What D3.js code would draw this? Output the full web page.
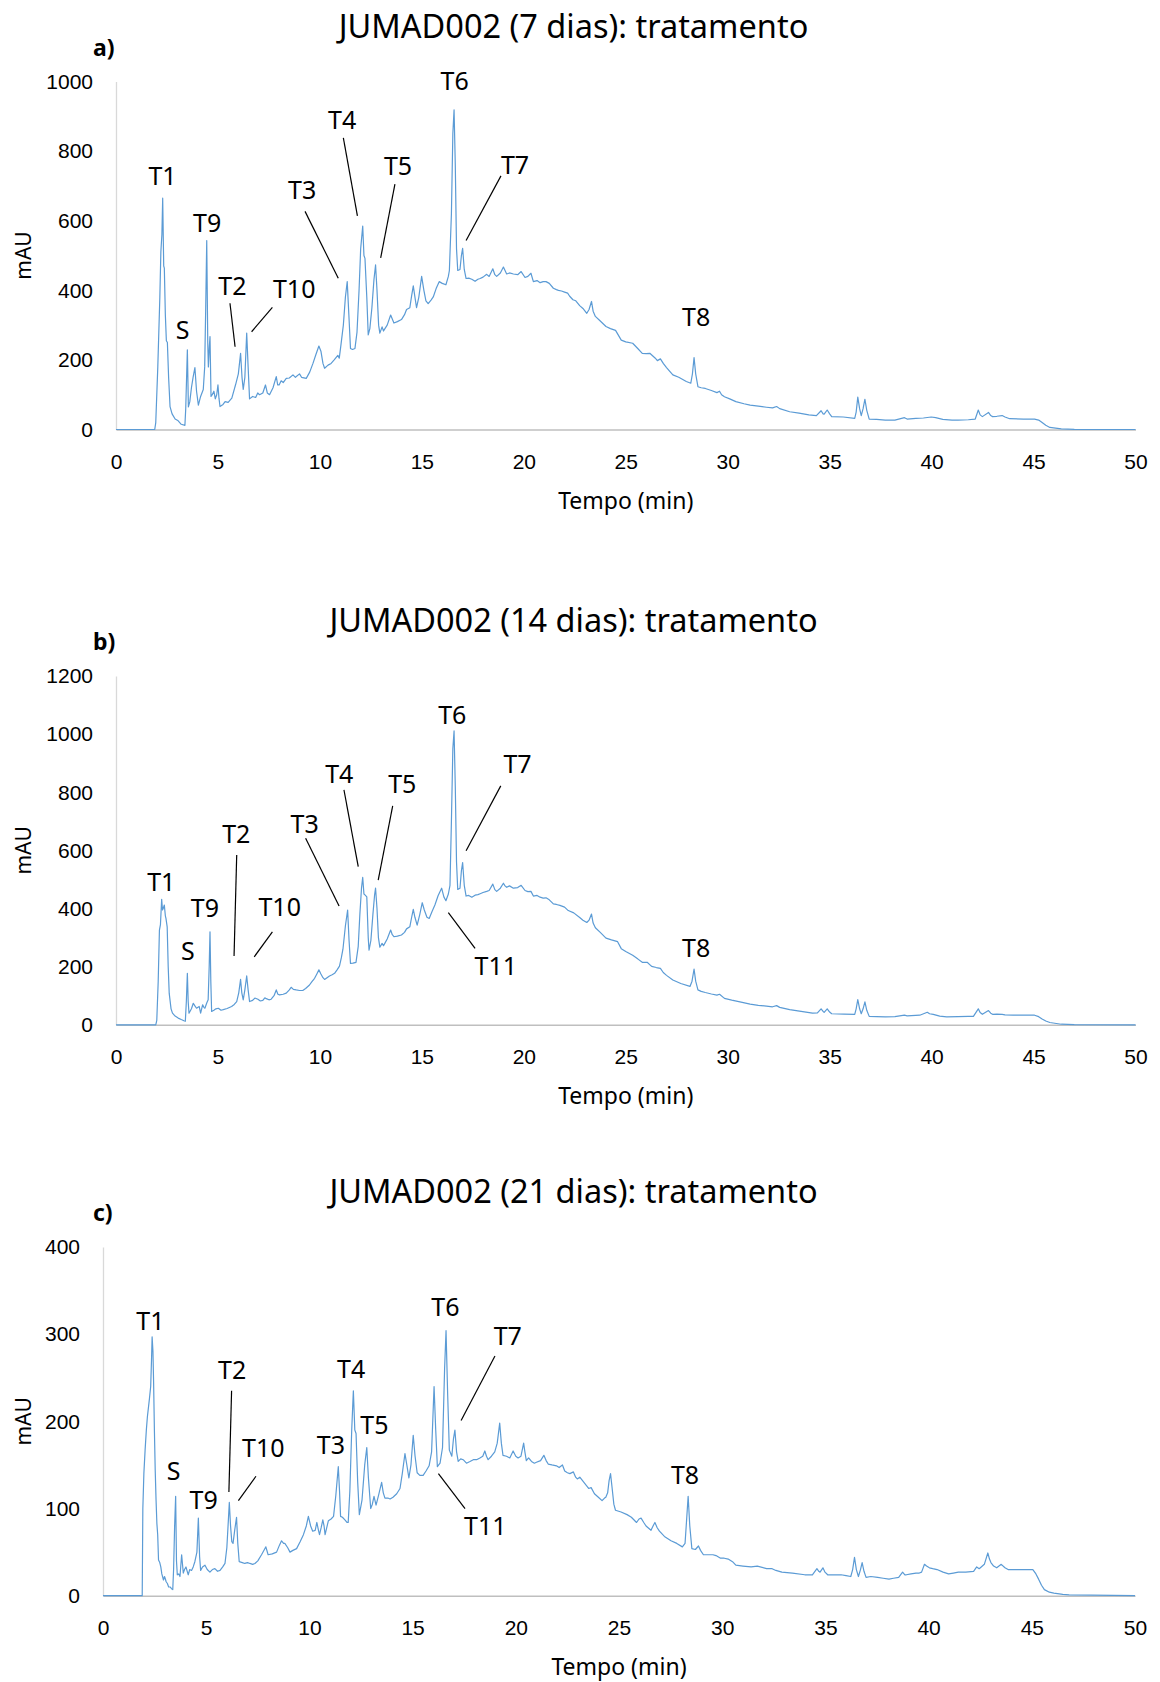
<!DOCTYPE html>
<html>
<head>
<meta charset="utf-8">
<script src="https://cdn.jsdelivr.net/npm/d3@7"></script>
<style>
  body { margin: 0; background: #fff; }
  svg { display: block; font-family: "Noto Sans", "Open Sans", sans-serif; }
</style>
</head>
<body>
<svg id="chart" width="1160" height="1682"></svg>
<script>
// chart text
const titles = ["JUMAD002 (7 dias): tratamento", "JUMAD002 (14 dias): tratamento", "JUMAD002 (21 dias): tratamento"];
const tags = ["a)", "b)", "c)"];
const xLabel = "Tempo (min)";
const yLabel = "mAU";

// tick values
const xTicks = [0, 5, 10, 15, 20, 25, 30, 35, 40, 45, 50];
const yTicksA = [0, 200, 400, 600, 800, 1000];
const yTicksB = [0, 200, 400, 600, 800, 1000, 1200];
const yTicksC = [0, 100, 200, 300, 400];

// chromatograms: [time (min), mAU]
const traceA = [[0,0],[1.9,0],[1.95,20],[2.05,180],[2.15,380],[2.2,510],[2.25,560],[2.29,665],[2.34,470],[2.37,464],[2.42,330],[2.47,255],[2.52,250],[2.58,150],[2.65,66],[2.75,45],[2.9,30],[3.05,25],[3.2,15],[3.38,12],[3.42,60],[3.5,229],[3.55,65],[3.62,80],[3.7,120],[3.78,150],[3.87,178],[3.95,110],[4.04,70],[4.15,95],[4.28,115],[4.35,180],[4.4,350],[4.45,543],[4.5,250],[4.53,180],[4.58,240],[4.61,267],[4.66,95],[4.72,100],[4.8,110],[4.87,88],[4.94,100],[5.0,128],[5.05,90],[5.1,66],[5.25,72],[5.35,80],[5.5,78],[5.68,90],[5.87,130],[6.0,160],[6.11,219],[6.18,150],[6.24,115],[6.32,150],[6.41,277],[6.48,180],[6.55,88],[6.7,95],[6.85,92],[6.95,105],[7.04,100],[7.2,105],[7.33,128],[7.42,105],[7.53,100],[7.7,120],[7.86,152],[7.93,128],[8.0,128],[8.1,140],[8.2,135],[8.35,147],[8.5,148],[8.68,157],[8.8,150],[9.0,160],[9.1,150],[9.33,147],[9.5,165],[9.66,190],[9.8,215],[9.95,240],[10.05,225],[10.15,190],[10.23,176],[10.4,185],[10.55,190],[10.7,200],[10.88,213],[10.95,205],[11.04,247],[11.15,300],[11.25,380],[11.34,425],[11.42,330],[11.5,233],[11.6,230],[11.72,233],[11.82,280],[11.92,400],[12.0,520],[12.1,585],[12.16,500],[12.21,492],[12.3,380],[12.37,272],[12.45,290],[12.55,350],[12.65,430],[12.73,473],[12.8,400],[12.88,300],[12.94,277],[13.05,295],[13.12,283],[13.19,290],[13.3,300],[13.47,329],[13.63,306],[13.8,310],[14.0,316],[14.15,330],[14.25,345],[14.41,350],[14.5,385],[14.58,413],[14.65,385],[14.74,350],[14.85,380],[14.99,440],[15.1,400],[15.2,370],[15.31,362],[15.45,372],[15.56,381],[15.7,405],[15.85,425],[16.0,420],[16.18,416],[16.3,440],[16.35,457],[16.45,620],[16.52,850],[16.58,919],[16.64,760],[16.7,520],[16.76,457],[16.87,460],[16.94,500],[17.0,521],[17.08,460],[17.17,434],[17.3,435],[17.45,432],[17.61,426],[17.75,432],[17.86,434],[18.0,438],[18.18,446],[18.3,440],[18.48,462],[18.58,445],[18.67,440],[18.85,450],[19.0,467],[19.16,447],[19.3,450],[19.49,447],[19.7,445],[19.87,454],[20.06,437],[20.2,440],[20.35,449],[20.47,425],[20.65,428],[20.8,422],[20.95,425],[21.09,425],[21.25,420],[21.45,406],[21.6,402],[21.7,400],[21.85,398],[22.0,395],[22.15,392],[22.25,383],[22.41,373],[22.55,370],[22.74,356],[22.9,348],[23.09,334],[23.2,345],[23.32,368],[23.4,340],[23.51,325],[23.75,312],[24.03,296],[24.25,290],[24.5,285],[24.78,257],[25.0,252],[25.34,248],[25.6,232],[25.81,219],[26.0,218],[26.18,219],[26.45,205],[26.55,198],[26.7,203],[26.84,190],[27.0,178],[27.31,157],[27.6,150],[27.97,138],[28.19,133],[28.27,160],[28.35,207],[28.43,160],[28.54,123],[28.7,120],[28.9,118],[29.2,112],[29.47,106],[29.6,110],[29.7,100],[29.84,94],[30.1,88],[30.4,80],[30.8,74],[31.1,70],[31.5,67],[31.9,64],[32.2,62],[32.4,66],[32.55,60],[33.04,51],[33.5,47],[33.98,42],[34.35,40],[34.58,54],[34.68,45],[34.73,44],[34.88,56],[35.0,45],[35.1,37],[35.67,36],[36.23,32],[36.3,50],[36.38,93],[36.47,60],[36.55,40],[36.64,60],[36.73,87],[36.82,55],[36.94,30],[37.3,29],[37.73,27],[38.2,27],[38.67,34],[38.8,30],[39.23,32],[39.6,33],[39.98,36],[40.2,34],[40.55,29],[41.0,27],[41.3,27],[41.8,28],[42.14,30],[42.29,56],[42.38,42],[42.49,37],[42.79,49],[42.9,40],[42.99,37],[43.2,38],[43.46,40],[43.6,36],[43.83,31],[44.5,30],[45.05,30],[45.25,27],[45.42,20],[45.6,12],[45.8,6],[46.36,2],[47,0.5],[50,0]];

const traceB = [[0,0],[1.95,0],[2.0,15],[2.07,150],[2.13,326],[2.18,345],[2.24,432],[2.28,395],[2.32,401],[2.37,412],[2.42,375],[2.45,366],[2.51,337],[2.56,200],[2.61,108],[2.7,55],[2.77,40],[2.9,30],[3.05,23],[3.2,18],[3.33,14],[3.4,12],[3.45,80],[3.5,177],[3.54,80],[3.58,40],[3.7,55],[3.79,74],[3.87,65],[3.95,57],[4.08,63],[4.15,40],[4.25,69],[4.31,60],[4.36,57],[4.45,75],[4.52,86],[4.57,200],[4.61,320],[4.65,150],[4.69,46],[4.8,50],[4.9,55],[5.02,57],[5.15,50],[5.26,52],[5.45,56],[5.67,63],[5.8,70],[5.92,80],[6.02,110],[6.11,156],[6.17,110],[6.24,86],[6.32,120],[6.41,168],[6.48,120],[6.55,80],[6.7,84],[6.81,92],[6.96,88],[7.08,82],[7.2,84],[7.3,93],[7.37,90],[7.5,86],[7.61,88],[7.75,100],[7.86,120],[7.94,105],[8.02,103],[8.2,105],[8.35,109],[8.5,120],[8.59,129],[8.7,122],[8.84,120],[9.0,118],[9.16,118],[9.3,125],[9.49,137],[9.6,148],[9.74,160],[9.85,175],[9.95,189],[10.05,175],[10.15,162],[10.23,156],[10.35,162],[10.47,168],[10.6,172],[10.72,177],[10.85,190],[10.96,202],[11.05,230],[11.13,260],[11.25,340],[11.36,395],[11.43,290],[11.5,211],[11.62,212],[11.77,215],[11.88,270],[11.96,380],[12.04,470],[12.1,507],[12.16,450],[12.21,447],[12.3,440],[12.37,300],[12.41,257],[12.5,290],[12.6,380],[12.68,445],[12.73,470],[12.8,400],[12.87,300],[12.94,267],[13.05,280],[13.12,272],[13.19,281],[13.3,295],[13.47,326],[13.55,310],[13.63,303],[13.8,305],[14.0,309],[14.15,318],[14.25,330],[14.41,337],[14.5,370],[14.58,397],[14.66,370],[14.77,343],[14.9,380],[15.02,420],[15.12,395],[15.25,370],[15.36,366],[15.5,390],[15.64,412],[15.8,445],[15.97,470],[16.08,440],[16.18,427],[16.3,450],[16.38,480],[16.45,700],[16.52,950],[16.58,1011],[16.64,820],[16.7,560],[16.76,466],[16.87,470],[16.94,530],[17.0,558],[17.08,480],[17.17,443],[17.3,445],[17.45,439],[17.61,446],[17.75,448],[17.86,451],[18.0,455],[18.18,459],[18.3,462],[18.48,484],[18.58,465],[18.67,459],[18.85,470],[19.0,487],[19.08,478],[19.16,473],[19.3,478],[19.49,470],[19.7,472],[19.87,480],[20.06,462],[20.2,458],[20.35,459],[20.47,443],[20.65,445],[20.8,439],[20.95,436],[21.09,437],[21.25,430],[21.45,416],[21.6,414],[21.77,411],[22.0,405],[22.18,393],[22.45,385],[22.74,369],[22.9,360],[23.09,352],[23.2,360],[23.32,381],[23.4,350],[23.51,334],[23.75,318],[24.03,298],[24.3,292],[24.6,286],[24.78,262],[25.0,252],[25.34,239],[25.6,226],[25.81,215],[26.05,215],[26.27,201],[26.5,197],[26.7,194],[26.84,180],[27.0,170],[27.31,154],[27.7,142],[28.15,132],[28.25,150],[28.35,192],[28.43,150],[28.54,120],[28.7,115],[28.9,111],[29.2,106],[29.47,102],[29.6,105],[29.84,91],[30.2,85],[30.6,79],[31.1,71],[31.5,67],[31.9,64],[32.2,62],[32.4,66],[32.55,60],[33.04,52],[33.6,46],[34.16,40],[34.4,41],[34.58,55],[34.68,46],[34.73,43],[34.88,55],[35.0,44],[35.1,38],[35.7,37],[36.23,36],[36.3,55],[36.38,87],[36.47,55],[36.55,38],[36.64,55],[36.73,79],[36.82,50],[36.94,29],[37.3,28],[37.73,27],[38.2,28],[38.67,33],[38.8,31],[39.42,33],[39.79,43],[39.9,38],[40.08,36],[40.4,30],[40.74,27],[41.3,28],[41.8,29],[42.05,29],[42.29,55],[42.38,42],[42.49,36],[42.79,49],[42.9,40],[42.99,36],[43.2,37],[43.46,36],[43.6,34],[44.0,33],[44.5,33],[45.05,33],[45.25,28],[45.42,20],[45.6,13],[45.8,8],[46.36,2],[47,0.5],[50,0]];

const traceC = [[0,0],[1.9,0],[1.93,100],[1.98,140],[2.04,167],[2.1,190],[2.15,205],[2.25,226],[2.31,240],[2.35,270],[2.38,297],[2.42,280],[2.45,247],[2.49,190],[2.53,144],[2.57,110],[2.61,83],[2.65,70],[2.69,41],[2.75,38],[2.8,33],[2.85,25],[2.93,18],[2.98,22],[3.01,20],[3.06,16],[3.12,14],[3.18,10],[3.25,10],[3.32,8],[3.38,7],[3.42,30],[3.47,80],[3.52,114],[3.56,40],[3.6,24],[3.67,25],[3.73,22],[3.81,47],[3.89,26],[3.95,30],[4.02,33],[4.08,28],[4.13,24],[4.2,30],[4.29,29],[4.37,33],[4.45,39],[4.55,50],[4.62,89],[4.68,45],[4.73,29],[4.82,33],[4.94,35],[5.05,30],[5.18,27],[5.3,30],[5.42,31],[5.55,28],[5.67,29],[5.8,33],[5.91,37],[6.0,55],[6.07,85],[6.12,107],[6.18,80],[6.24,62],[6.3,60],[6.38,75],[6.47,90],[6.53,60],[6.6,39],[6.75,38],[6.87,37],[7.0,38],[7.12,37],[7.25,36],[7.36,37],[7.5,40],[7.68,47],[7.82,53],[7.89,56],[8.0,47],[8.2,48],[8.41,50],[8.55,58],[8.65,63],[8.75,60],[8.81,60],[8.95,55],[9.06,50],[9.2,52],[9.38,54],[9.55,62],[9.71,70],[9.85,80],[9.95,91],[10.06,80],[10.16,74],[10.28,75],[10.36,84],[10.44,75],[10.49,70],[10.57,78],[10.65,87],[10.71,80],[10.76,70],[10.84,78],[10.92,86],[11.05,88],[11.17,91],[11.28,115],[11.4,148],[11.46,120],[11.51,91],[11.6,90],[11.72,87],[11.82,84],[11.88,84],[11.96,120],[12.05,190],[12.13,235],[12.2,190],[12.26,186],[12.34,130],[12.42,93],[12.55,110],[12.68,150],[12.78,170],[12.86,135],[12.97,100],[13.05,105],[13.13,114],[13.23,104],[13.35,115],[13.5,130],[13.58,118],[13.66,112],[13.8,112],[13.91,111],[14.05,113],[14.23,117],[14.39,123],[14.5,140],[14.63,163],[14.72,150],[14.82,135],[14.92,150],[15.03,184],[15.12,160],[15.22,141],[15.35,138],[15.51,138],[15.65,143],[15.8,149],[15.92,165],[16.04,240],[16.12,190],[16.2,148],[16.33,152],[16.45,170],[16.55,260],[16.62,304],[16.7,230],[16.78,167],[16.9,160],[16.98,180],[17.05,190],[17.13,165],[17.21,154],[17.33,157],[17.45,156],[17.61,152],[17.78,154],[17.94,156],[18.1,156],[18.26,158],[18.4,160],[18.5,166],[18.58,160],[18.66,156],[18.82,160],[18.98,165],[19.1,175],[19.22,198],[19.3,175],[19.38,161],[19.55,160],[19.71,158],[19.87,166],[20.0,160],[20.11,158],[20.25,160],[20.38,175],[20.44,165],[20.51,155],[20.62,158],[20.76,154],[20.9,152],[21.0,153],[21.2,155],[21.36,161],[21.47,155],[21.57,151],[21.75,150],[21.97,149],[22.1,147],[22.26,150],[22.37,143],[22.5,141],[22.62,140],[22.79,142],[22.9,136],[22.98,134],[23.1,136],[23.3,130],[23.53,123],[23.65,124],[23.81,117],[24.0,113],[24.18,109],[24.3,112],[24.36,113],[24.45,118],[24.52,132],[24.59,140],[24.66,125],[24.75,105],[24.83,98],[25.1,96],[25.39,93],[25.6,90],[25.85,84],[25.97,88],[26.07,89],[26.2,84],[26.31,80],[26.55,75],[26.65,80],[26.74,84],[26.85,78],[26.96,74],[27.2,68],[27.52,63],[27.8,60],[28.07,56],[28.2,60],[28.27,85],[28.35,114],[28.43,80],[28.53,54],[28.7,53],[28.85,57],[28.95,52],[29.09,47],[29.3,47],[29.55,47],[29.7,46],[29.92,43],[30.1,43],[30.29,42],[30.5,39],[30.66,35],[31.0,34],[31.4,33],[31.7,34],[32.15,31],[32.42,31],[32.6,29],[32.89,27],[33.4,26],[34.0,24],[34.37,24],[34.59,31],[34.68,28],[34.74,27],[34.88,32],[34.98,27],[35.11,24],[35.5,24],[35.76,24],[36.0,23],[36.23,22],[36.32,30],[36.41,44],[36.5,30],[36.6,22],[36.7,30],[36.78,38],[36.87,28],[36.97,21],[37.2,22],[37.53,21],[37.8,20],[38.08,19],[38.3,20],[38.55,21],[38.74,27],[38.85,24],[38.92,24],[39.15,25],[39.39,26],[39.55,26],[39.66,27],[39.8,36],[39.9,34],[40.04,32],[40.2,31],[40.41,30],[40.7,27],[40.97,25],[41.2,26],[41.44,27],[41.8,27],[42.18,28],[42.33,33],[42.45,31],[42.55,33],[42.7,36],[42.87,49],[42.95,42],[43.02,38],[43.15,34],[43.3,32],[43.52,36],[43.7,32],[43.85,30],[44.1,30],[44.41,30],[44.8,30],[45.05,30],[45.2,25],[45.33,19],[45.47,12],[45.61,7],[45.85,4],[46.07,3],[46.5,1.5],[46.81,1],[50,0]];

// peak labels: [text, time, mAU] and optional leader line [t1, v1, t2, v2]
const peaksA = [
  ["T1", 2.28, 703], ["S", 3.27, 259], ["T9", 4.47, 569],
  ["T2", 5.71, 387, [5.59, 363, 5.84, 238]],
  ["T10", 8.74, 377, [7.67, 351, 6.65, 281]],
  ["T3", 9.13, 662, [9.27, 627, 10.9, 435]],
  ["T4", 11.09, 864, [11.15, 838, 11.84, 614]],
  ["T5", 13.83, 732, [13.68, 705, 12.98, 493]],
  ["T6", 16.61, 975],
  ["T7", 19.57, 735, [18.88, 729, 17.17, 543]],
  ["T8", 28.45, 298]
];
const peaksB = [
  ["T1", 2.22, 461], ["S", 3.52, 223], ["T9", 4.36, 372],
  ["T2", 5.9, 624, [5.92, 584, 5.79, 237]],
  ["T10", 8.03, 374, [7.67, 320, 6.78, 234]],
  ["T3", 9.25, 661, [9.3, 642, 10.94, 409]],
  ["T4", 10.95, 831, [11.18, 808, 11.88, 544]],
  ["T5", 14.04, 796, [13.57, 753, 12.86, 498]],
  ["T6", 16.49, 1035],
  ["T7", 19.69, 867, [18.87, 822, 17.17, 599]],
  ["T11", 18.63, 171, [17.61, 263, 16.3, 386]],
  ["T8", 28.45, 233]
];
const peaksC = [
  ["T1", 2.3, 305], ["S", 3.42, 133], ["T9", 4.88, 100],
  ["T2", 6.26, 249, [6.23, 235, 6.1, 119]],
  ["T10", 7.77, 159, [7.41, 137, 6.56, 109]],
  ["T3", 11.04, 163], ["T4", 12.02, 250], ["T5", 13.15, 185],
  ["T6", 16.59, 321],
  ["T7", 19.61, 288, [18.99, 275, 17.35, 201]],
  ["T11", 18.52, 70, [17.54, 100, 16.25, 140]],
  ["T8", 28.2, 128]
];

// layout of the three plot areas (pixels)
const panels = [
  { trace: traceA, yTicks: yTicksA, peaks: peaksA, left: 116, right: 1135.5, top: 81.6, bottom: 429.5 },
  { trace: traceB, yTicks: yTicksB, peaks: peaksB, left: 116, right: 1135.5, top: 676, bottom: 1024.8 },
  { trace: traceC, yTicks: yTicksC, peaks: peaksC, left: 103, right: 1135, top: 1247, bottom: 1595.7 }
];

const svg = d3.select("#chart");
svg.append("rect").attr("width", 1160).attr("height", 1682).attr("fill", "#fff");

panels.forEach((p, i) => {
  const x = d3.scaleLinear().domain([0, 50]).range([p.left, p.right]);
  const y = d3.scaleLinear().domain([0, d3.max(p.yTicks)]).range([p.bottom, p.top]);
  const g = svg.append("g");

  // title and panel tag
  g.append("text")
    .attr("x", 573.5).attr("y", p.top - 44)
    .attr("text-anchor", "middle")
    .attr("font-size", 32.5).attr("fill", "#000")
    .text(titles[i]);
  g.append("text")
    .attr("x", 93).attr("y", p.top - 26)
    .attr("font-size", 23).attr("font-weight", "bold").attr("fill", "#000")
    .text(tags[i]);

  // axes
  const yAxis = g.append("g")
    .attr("transform", `translate(${p.left},0)`)
    .call(d3.axisLeft(y).tickValues(p.yTicks).tickSize(0).tickPadding(23).tickFormat(d3.format("d")));
  yAxis.select(".domain").attr("stroke", "#d9d9d9").attr("stroke-width", 1.3);
  yAxis.selectAll("text").attr("font-size", 21).attr("fill", "#000").attr("font-family", null);

  const xAxis = g.append("g")
    .attr("transform", `translate(0,${p.bottom})`)
    .call(d3.axisBottom(x).tickValues(xTicks).tickSize(0).tickPadding(24.5).tickFormat(d3.format("d")));
  xAxis.select(".domain").attr("stroke", "#bfbfbf").attr("stroke-width", 1.5);
  xAxis.selectAll("text").attr("font-size", 21).attr("fill", "#000").attr("font-family", null);

  g.append("text")
    .attr("x", (p.left + p.right) / 2).attr("y", p.bottom + 79)
    .attr("text-anchor", "middle").attr("font-size", 23).attr("fill", "#000")
    .text(xLabel);
  g.append("text")
    .attr("transform", `translate(31,${(p.top + p.bottom) / 2}) rotate(-90)`)
    .attr("text-anchor", "middle").attr("font-size", 21).attr("fill", "#000")
    .text(yLabel);

  // chromatogram
  const line = d3.line().x(d => x(d[0])).y(d => y(d[1]));
  g.append("path")
    .datum(p.trace)
    .attr("d", line)
    .attr("fill", "none")
    .attr("stroke", "#5b9bd5")
    .attr("stroke-width", 1.2)
    .attr("stroke-linejoin", "round");

  // peak labels
  const lab = g.selectAll(".peak").data(p.peaks).enter().append("g").attr("class", "peak");
  lab.filter(d => d[3])
    .append("line")
    .attr("x1", d => x(d[3][0])).attr("y1", d => y(d[3][1]))
    .attr("x2", d => x(d[3][2])).attr("y2", d => y(d[3][3]))
    .attr("stroke", "#000").attr("stroke-width", 1.2);
  lab.append("text")
    .attr("x", d => x(d[1])).attr("y", d => y(d[2]))
    .attr("text-anchor", "middle").attr("font-size", 25).attr("fill", "#000")
    .text(d => d[0]);
});
</script>
</body>
</html>
